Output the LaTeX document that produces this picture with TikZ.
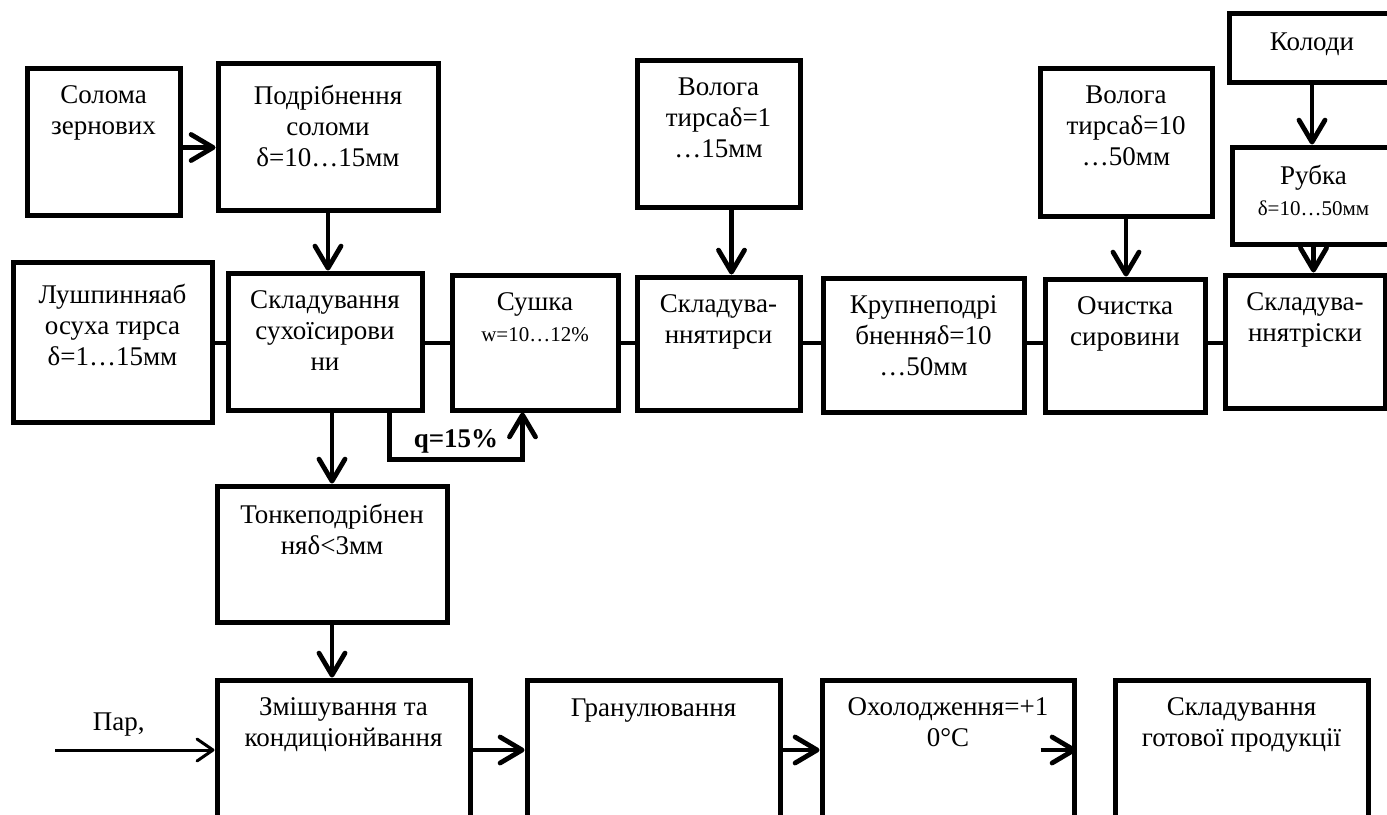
\documentclass[tikz,border=0pt]{standalone}
\usepackage{fontspec}
\setmainfont{Liberation Serif}
\usetikzlibrary{positioning, arrows.meta, fit, calc}
\newcommand{\bigtxt}{\fontsize{13.5}{15.5}\selectfont}
\newcommand{\smalltxt}{\fontsize{10.5}{14}\selectfont}
\tikzset{
  block/.style={draw, line width=2.5pt, inner sep=0pt},
  txt/.style={anchor=north, inner sep=0pt, yshift=-10pt, align=center, font=\bigtxt},
  arr/.style={-{Straight Barb[length=11pt, width=13pt, round]}, line width=2.4pt},
  thinarr/.style={-{Straight Barb[length=8pt, width=11pt, round]}, line width=1.5pt},
  link/.style={line width=2pt},
  lbl/.style={font=\bigtxt, inner sep=0pt}
}
\begin{document}
\begin{tikzpicture}[x=0.5pt, y=-0.5pt]
\useasboundingbox (0,0) rectangle (1387,814);
\node[block, fit={(27,68) (180,215)}, label={[txt]north:Солома\\зернових}] (solom) {};
\node[block, fit={(218,63) (438,210)}, label={[txt, yshift=-2pt]north:Подрібнення\\соломи\\δ=10…15мм}] (podr) {};
\node[block, fit={(13,262) (212,422)}, label={[txt, yshift=-2pt]north:Лушпинняаб\\осуха тирса\\δ=1…15мм}] (lush) {};
\node[block, fit={(228,273) (422,410)}, label={[txt]north:Складування\\сухоїсирови\\ни}] (sklsukh) {};
\node[block, fit={(452,275) (618,410)}, label={[txt]north:Сушка\\{\smalltxt w=10…12\%}}] (sushka) {};
\node[block, fit={(637,60) (800,207)}, label={[txt]north:Волога\\тирсаδ=1\\…15мм}] (volog1) {};
\node[block, fit={(637,277) (800,410)}, label={[txt]north:Складува-\\ннятирси}] (skltyrs) {};
\node[block, fit={(823,278) (1024,412)}, label={[txt]north:Крупнеподрі\\бненняδ=10\\…50мм}] (krupn) {};
\node[block, fit={(1040,68) (1212,216)}, label={[txt]north:Волога\\тирсаδ=10\\…50мм}] (volog10) {};
\node[block, fit={(1045,279) (1205,412)}, label={[txt]north:Очистка\\сировини}] (ochyst) {};
\node[block, fit={(1229,13) (1395,82)}, label={[txt, yshift=-1pt]north:Колоди}] (kolody) {};
\node[block, fit={(1232,147) (1395,244)}, label={[txt]north:Рубка\\{\smalltxt δ=10…50мм}}] (rubka) {};
\node[block, fit={(1225,275) (1385,408)}, label={[txt]north:Складува-\\ннятріски}] (skltrisk) {};
\node[block, fit={(217,486) (447,622)}, label={[txt]north:Тонкеподрібнен\\няδ<3мм}] (tonke) {};
\node[block, fit={(217,680) (470,830)}, label={[txt]north:Змішування та\\кондиціонйвання}] (zmish) {};
\node[block, fit={(527,680) (780,830)}, label={[txt, yshift=-0.5pt]north:Гранулювання}] (granul) {};
\node[block, fit={(822,680) (1074,830)}, label={[txt]north:Охолодження=+1\\0°C}] (oholod) {};
\node[block, fit={(1115,680) (1368,830)}, label={[txt]north:Складування\\готової продукції}] (sklgot) {};
\coordinate (mid) at (0,343);
\coordinate (row) at (0,750);
\coordinate (par) at (55,750);
\coordinate (s1) at ($(solom.east)+(0,6)$);
\coordinate (v1) at ($(volog1.south)+(13,0)$);
\draw[arr] (s1) -- (s1 -| podr.west);
\draw[arr] (podr.south) -- (podr.south |- sklsukh.north);
\draw[link] (lush.east |- mid) -- (sklsukh.west |- mid);
\draw[link] (sklsukh.east |- mid) -- (sushka.west |- mid);
\draw[link] (sushka.east |- mid) -- (skltyrs.west |- mid);
\draw[link] (skltyrs.east |- mid) -- (krupn.west |- mid);
\draw[link] (krupn.east |- mid) -- (ochyst.west |- mid);
\draw[link] (ochyst.east |- mid) -- (skltrisk.west |- mid);
\draw[arr] (v1) -- (v1 |- skltyrs.north);
\draw[arr] (volog10.south) -- (volog10.south |- ochyst.north);
\draw[arr] (kolody.south) -- (kolody.south |- rubka.north);
\draw[arr] (rubka.south) -- (rubka.south |- skltrisk.north);
\draw[arr] ($(sklsukh.south east)+(-35,0)$) |- ($(sushka.south west)+(73,47)$) node[lbl, pos=0.75, above=2pt]{\textbf{q=15\%}} -- ($(sushka.south west)+(73,0)$);
\draw[arr] (sklsukh.south -| tonke.north) -- (tonke.north);
\draw[arr] (tonke.south) -- (tonke.south |- zmish.north);
\draw[thinarr] (par) -- (par -| zmish.west) node[lbl, pos=0.4, above=6pt]{Пар,};
\draw[arr] (zmish.east |- row) -- (granul.west |- row);
\draw[arr] (granul.east |- row) -- (oholod.west |- row);
\draw[arr] ($(oholod.east |- row)+(-36,0)$) -- (oholod.east |- row);
\end{tikzpicture}
\end{document}
